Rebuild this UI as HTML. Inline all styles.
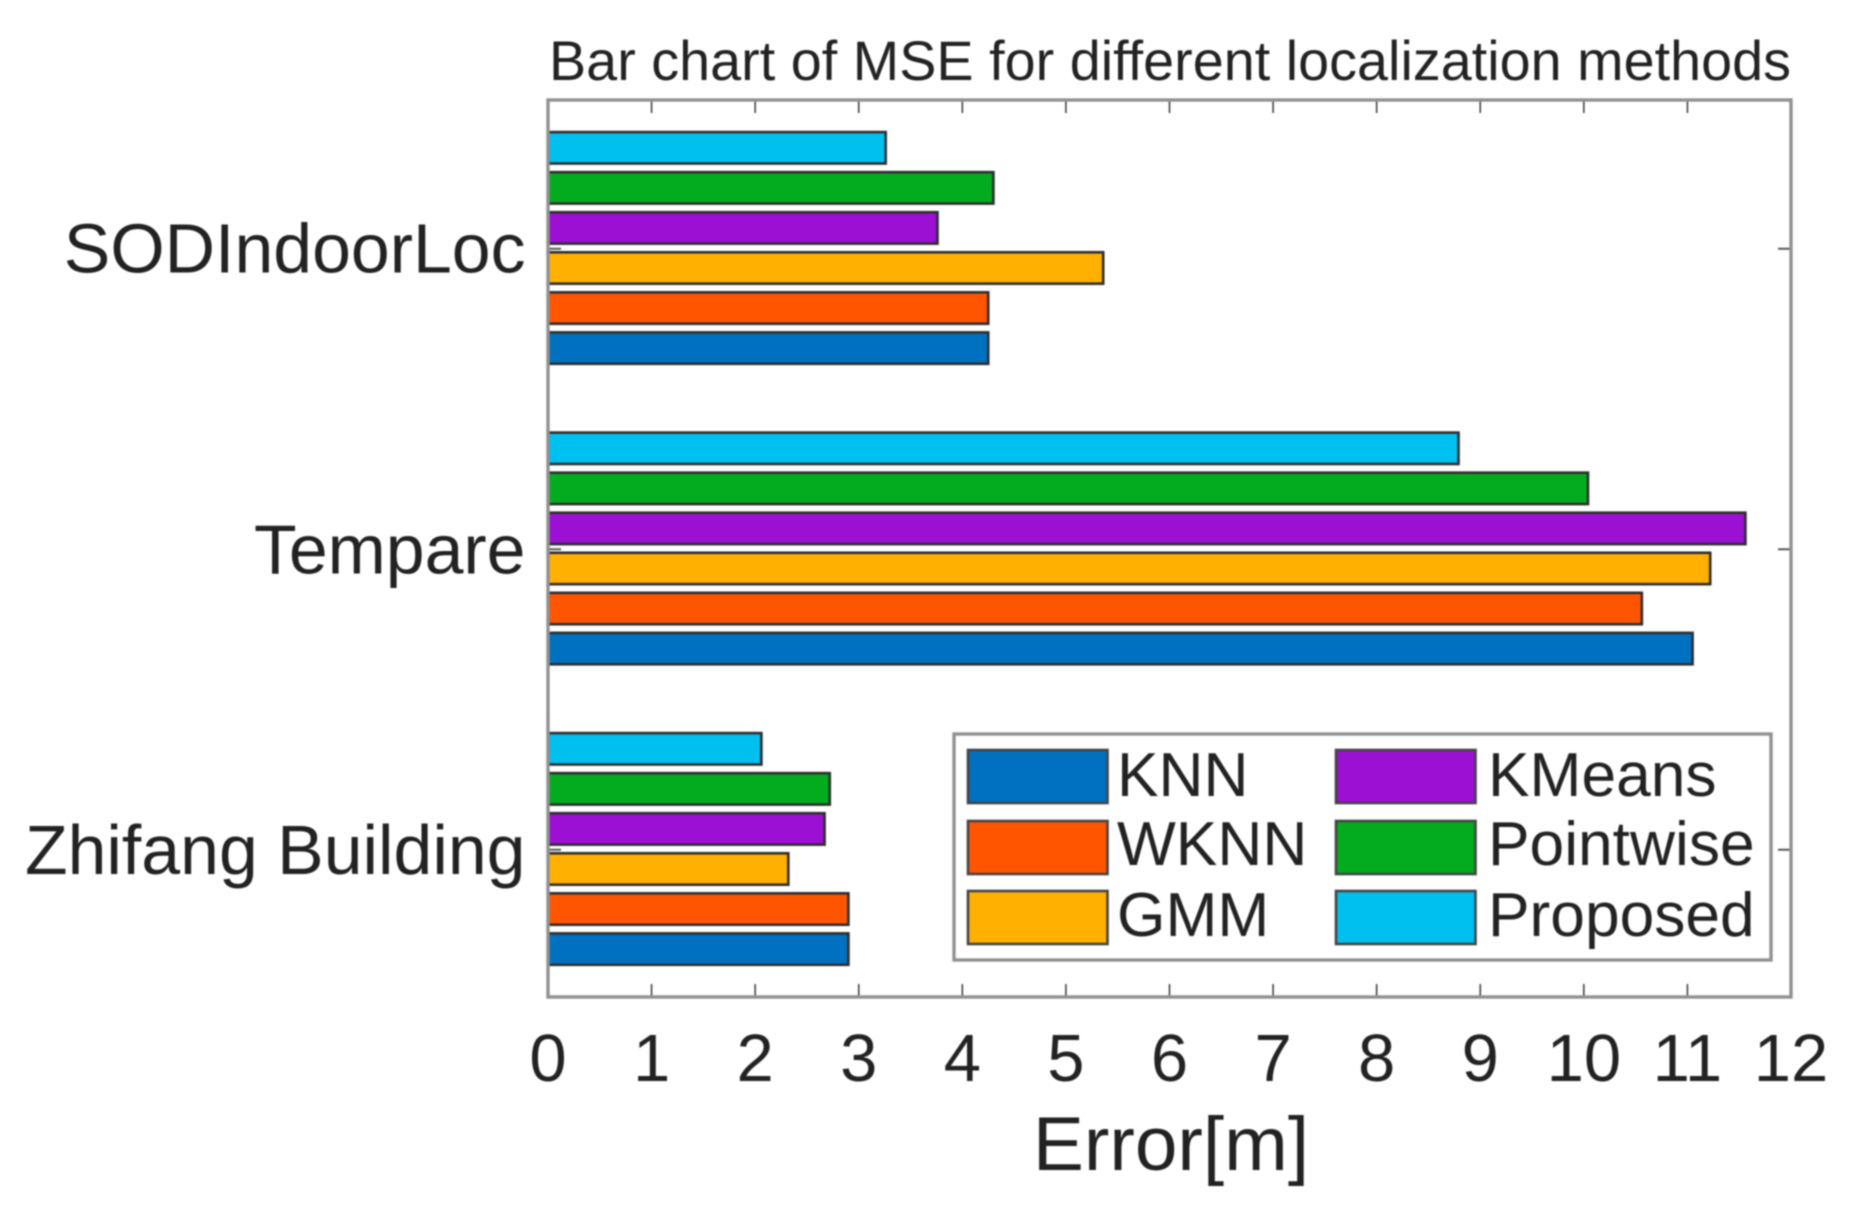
<!DOCTYPE html>
<html lang="en">
<head>
<meta charset="utf-8">
<title>Bar chart of MSE for different localization methods</title>
<style>
  html, body { margin: 0; padding: 0; background: #fff; }
  body { width: 1850px; height: 1217px; overflow: hidden; }
  svg { display: block; filter: blur(0.7px); }
  text { font-family: "Liberation Sans", Arial, sans-serif; fill: #222; }
</style>
</head>
<body>
<svg id="chart" xmlns="http://www.w3.org/2000/svg" width="1850" height="1217" viewBox="0 0 1850 1217">
  <rect x="0" y="0" width="1850" height="1217" fill="#fff"/>
  <text x="549" y="80" font-size="55.7" textLength="1242" lengthAdjust="spacing">Bar chart of MSE for different localization methods</text>
  <text x="1171" y="1170" font-size="76.5" text-anchor="middle">Error[m]</text>
  <g id="plot"></g>
  <g id="legend"></g>
</svg>
<script>
const categories = ["Zhifang Building", "Tempare", "SODIndoorLoc"];
const seriesNames = ["KNN", "WKNN", "GMM", "KMeans", "Pointwise", "Proposed"];
const seriesColors = ["#0071c1", "#ff5500", "#ffb000", "#9c10d4", "#03ab1f", "#00c0f0"];
const knnValues = [2.90, 11.05, 4.25];
const wknnValues = [2.90, 10.56, 4.25];
const gmmValues = [2.32, 11.22, 5.36];
const kmeansValues = [2.67, 11.56, 3.76];
const pointwiseValues = [2.72, 10.04, 4.30];
const proposedValues = [2.06, 8.79, 3.26];
const xTickValues = [0, 1, 2, 3, 4, 5, 6, 7, 8, 9, 10, 11, 12];

const allValues = [knnValues, wknnValues, gmmValues, kmeansValues, pointwiseValues, proposedValues];

const NS = "http://www.w3.org/2000/svg";
const plotLeft = 548, plotRight = 1791, plotTop = 100, plotBottom = 997;
const xMax = 12;
const yLow = 0.51, yHigh = 3.495;
const barShift = -0.8;

function xScale(v) { return plotLeft + (v / xMax) * (plotRight - plotLeft); }
function yScale(c) { return plotBottom - ((c - yLow) / (yHigh - yLow)) * (plotBottom - plotTop); }

function make(tag, attrs, parent) {
  const el = document.createElementNS(NS, tag);
  for (const k in attrs) el.setAttribute(k, attrs[k]);
  parent.appendChild(el);
  return el;
}

const plot = document.getElementById("plot");
const legend = document.getElementById("legend");

const plotBg = make("rect", { x: plotLeft, y: plotTop, width: plotRight - plotLeft, height: plotBottom - plotTop, fill: "#fff" }, plot);



// x ticks and labels
xTickValues.forEach(function (t) {
  const px = xScale(t);
  if (t > 0 && t < xMax) {
    const bottomTick = make("line", { x1: px, x2: px, y1: plotBottom, y2: plotBottom - 13, stroke: "#444", "stroke-width": 1.6 }, plot);
    
    
    const topTick = make("line", { x1: px, x2: px, y1: plotTop, y2: plotTop + 13, stroke: "#444", "stroke-width": 1.6 }, plot);
    
    
  }
  const label = make("text", { x: px, y: 1081, "font-size": 67, "text-anchor": "middle" }, plot);
  label.textContent = String(t);
  
  
});

// y ticks and labels
categories.forEach(function (name, i) {
  const py = yScale(i + 1);
  const leftTick = make("line", { x1: plotLeft, x2: plotLeft + 13, y1: py, y2: py, stroke: "#555", "stroke-width": 2 }, plot);
  
  
  const rightTick = make("line", { x1: plotRight, x2: plotRight - 13, y1: py, y2: py, stroke: "#555", "stroke-width": 2 }, plot);
  
  
  const label = make("text", { x: 525.5, y: py + 24, "font-size": 69.8, "text-anchor": "end" }, plot);
  label.textContent = name;
  
  
});

// bars: grouped horizontally, first series lowest in each group
const slot = 0.1333;
const barThickness = 0.1045;
allValues.forEach(function (values, s) {
  values.forEach(function (v, c) {
    const center = (c + 1) - (s - 2.5) * -slot;
    const top = yScale(center + barThickness / 2) + barShift;
    const bottom = yScale(center - barThickness / 2) + barShift;
    const bar = make("rect", {
      x: plotLeft,
      y: top,
      width: xScale(v) - plotLeft,
      height: bottom - top,
      fill: seriesColors[s],
      stroke: "#2d2d2d",
      "stroke-width": 2.6
    }, plot);
    
    
  });
});

// axes box
const axesBox = make("rect", { x: plotLeft, y: plotTop, width: plotRight - plotLeft, height: plotBottom - plotTop, fill: "none", stroke: "#919191", "stroke-width": 3.4 }, plot);



// legend
const legendBox = make("rect", { x: 954, y: 734, width: 817, height: 226, fill: "#fff", stroke: "#919191", "stroke-width": 3.4 }, legend);



const legendCols = [968, 1336];
const legendTextCols = [1117, 1488];
const legendRows = [750, 821, 891];
const legendBaselines = [796, 865, 936];
seriesNames.forEach(function (name, s) {
  const col = Math.floor(s / 3);
  const row = s % 3;
  const sx = legendCols[col];
  const sy = legendRows[row];
  const swatch = make("rect", { x: sx, y: sy, width: 139.5, height: 53, fill: seriesColors[s], stroke: "#444", "stroke-width": 2.6 }, legend);
  
  
  const label = make("text", { x: legendTextCols[col], y: legendBaselines[row], "font-size": 62.3 }, legend);
  label.textContent = name;
  
  
});
</script>
</body>
</html>
